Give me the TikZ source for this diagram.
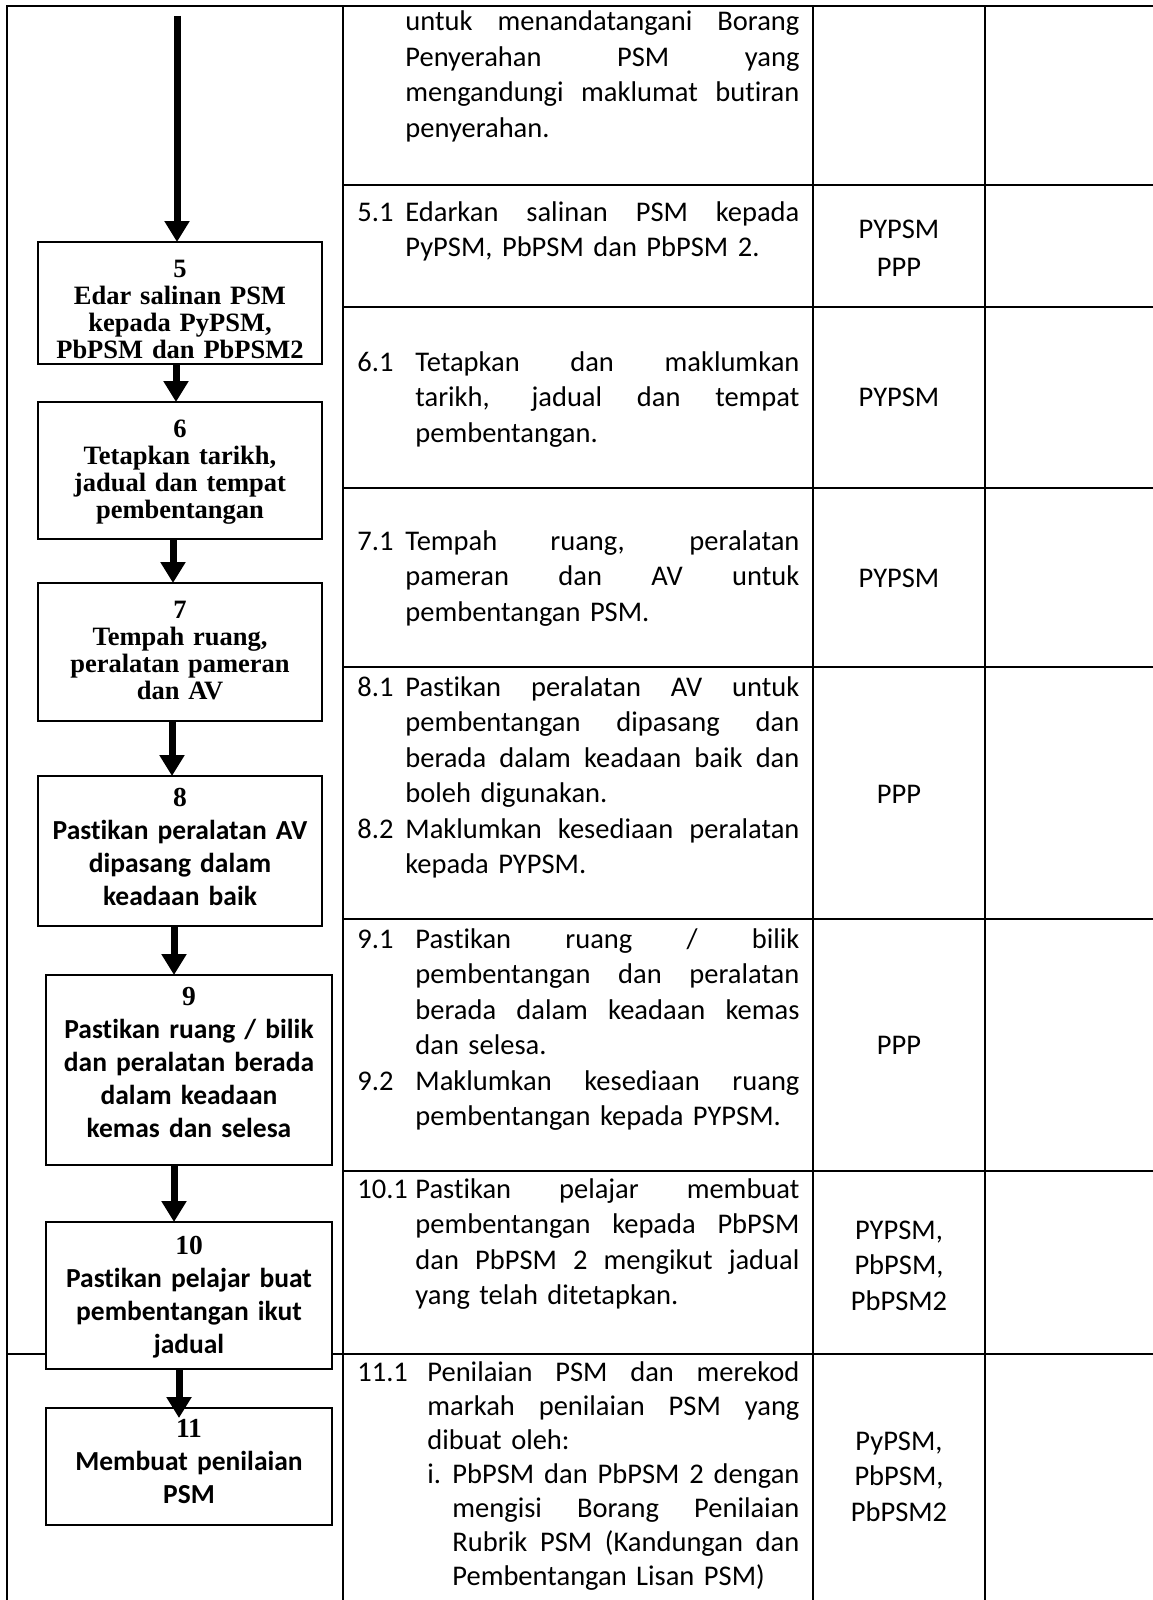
\documentclass[tikz,border=0pt]{standalone}
\usepackage{fontspec}
\setmainfont{Carlito}[Ligatures=NoCommon,Contextuals=NoAlternate]
\newfontfamily\cambria{Liberation Serif}
\usetikzlibrary{arrows.meta,calc}

% one justified line of fixed width, followed by a line break
\newcommand\justline[1]{\makebox[\linewidth][s]{\spaceskip=\fontdimen2\font plus 1fil\relax #1}\\}

\begin{document}
\begin{tikzpicture}[x=0.5pt,y=-0.5pt,
  grid/.style={line width=1.4pt, line cap=rect},
  flowbox/.style={draw, line width=1pt, fill=white, rectangle, inner sep=0pt, outer sep=0pt, anchor=north west},
  flow/.style={line width=3.5pt, -{Triangle[length=10.5pt,width=12pt]}},
  serifcap/.style={anchor=base, inner sep=0pt, text width=140pt, align=center,
    font=\cambria\bfseries\fontsize{13.25pt}{13.5pt}\selectfont},
  sanscap/.style={anchor=base, inner sep=0pt, text width=140pt, align=center,
    font=\bfseries\fontsize{13.75pt}{16.5pt}\selectfont},
  body/.style={anchor=base west, inner sep=0pt, align=left,
    font=\fontsize{14.25pt}{17.75pt}\selectfont},
  num/.style={anchor=base west, inner sep=0pt, font=\fontsize{14.25pt}{17.75pt}\selectfont},
  who/.style={anchor=base, inner sep=0pt, text width=80pt, align=center,
    font=\fontsize{14.25pt}{17.75pt}\selectfont},
]
\useasboundingbox (0,0) rectangle (1152,1600);

% table rules
\draw[grid] (7,1600) -- (7,6) -- (1152,6);
\foreach \x in {343,813,985} \draw[grid] (\x,6) -- (\x,1600);
\foreach \y in {185,307,488,667,919,1171} \draw[grid] (343,\y) -- (1152,\y);
\draw[grid] (7,1354) -- (1152,1354);

% flowchart boxes
\node[flowbox, minimum width=142pt, minimum height=61pt]   (b5)  at (38,242)  {};
\node[flowbox, minimum width=142pt, minimum height=68.5pt] (b6)  at (38,402)  {};
\node[flowbox, minimum width=142pt, minimum height=69pt]   (b7)  at (38,583)  {};
\node[flowbox, minimum width=142pt, minimum height=75pt]   (b8)  at (38,776)  {};
\node[flowbox, minimum width=143pt, minimum height=95pt]   (b9)  at (46,975)  {};
\node[flowbox, minimum width=143pt, minimum height=73.5pt] (b10) at (46,1222) {};
\node[flowbox, minimum width=143pt, minimum height=58.5pt] (b11) at (46,1408) {};

% box captions
\node[serifcap] (t5) at (180,277) {5\\Edar salinan PSM\\kepada PyPSM,\\PbPSM dan PbPSM2};
\node[serifcap] (t6) at (180,437.5) {6\\Tetapkan tarikh,\\jadual dan tempat\\pembentangan};
\node[serifcap] (t7) at (180,618) {7\\Tempah ruang,\\peralatan pameran\\dan AV};
\node[sanscap] (t8) at (180,806) {{\cambria 8}\\Pastikan peralatan AV\\dipasang dalam\\keadaan baik};
\node[sanscap] (t9) at (189,1005) {{\cambria 9}\\Pastikan ruang / bilik\\dan peralatan berada\\dalam keadaan\\kemas dan selesa};
\node[sanscap] (t10) at (189,1254) {{\cambria 10}\\Pastikan pelajar buat\\pembentangan ikut\\jadual};
\node[sanscap] (t11) at (189,1437) {{\cambria 11}\\Membuat penilaian\\PSM};

% flow arrows
\coordinate (s0) at (177,16);
\coordinate (c56) at (176,0);
\coordinate (c67) at (173,0);
\coordinate (c78) at (172,0);
\coordinate (c89) at (174,0);
\coordinate (c910) at (174,0);
\coordinate (tip11) at (179,1418);
\draw[flow] (s0) -- (b5.north -| s0);
\draw[flow] (b5.south -| c56) -- (b6.north -| c56);
\draw[flow] (b6.south -| c67) -- (b7.north -| c67);
\draw[flow] (b7.south -| c78) -- (b8.north -| c78);
\draw[flow] (b8.south -| c89) -- (b9.north -| c89);
\draw[flow] (b9.south -| c910) -- (b10.north -| c910);
\draw[flow] (b10.south -| tip11) -- (tip11);

% activity descriptions
\node[body, text width=197pt] (r4) at (405,31) {\justline{untuk menandatangani Borang}\justline{Penyerahan PSM yang}\justline{mengandungi maklumat butiran}penyerahan.};

\node[num] (n51) at (357,221) {5.1};
\node[body, text width=197pt] (r51) at (405,221) {\justline{Edarkan salinan PSM kepada}PyPSM, PbPSM dan PbPSM 2.};

\node[num] (n61) at (357,371) {6.1};
\node[body, text width=192pt] (r61) at (415,371) {\justline{Tetapkan dan maklumkan}\justline{tarikh, jadual dan tempat}pembentangan.};

\node[num] (n71) at (357,550) {7.1};
\node[body, text width=197pt] (r71) at (405,550) {\justline{Tempah ruang, peralatan}\justline{pameran dan AV untuk}pembentangan PSM.};

\node[num] (n81) at (357,696) {8.1};
\node[body, text width=197pt] (r81) at (405,696) {\justline{Pastikan peralatan AV untuk}\justline{pembentangan dipasang dan}\justline{berada dalam keadaan baik dan}boleh digunakan.};
\node[num] (n82) at (357,838) {8.2};
\node[body, text width=197pt] (r82) at (405,838) {\justline{Maklumkan kesediaan peralatan}kepada PYPSM.};

\node[num] (n91) at (357,948) {9.1};
\node[body, text width=192pt] (r91) at (415,948) {\justline{Pastikan ruang / bilik}\justline{pembentangan dan peralatan}\justline{berada dalam keadaan kemas}dan selesa.};
\node[num] (n92) at (357,1090) {9.2};
\node[body, text width=192pt] (r92) at (415,1090) {\justline{Maklumkan kesediaan ruang}pembentangan kepada PYPSM.};

\node[num] (n101) at (357,1198) {10.1};
\node[body, text width=192pt] (r101) at (415,1198) {\justline{Pastikan pelajar membuat}\justline{pembentangan kepada PbPSM}\justline{dan PbPSM 2 mengikut jadual}yang telah ditetapkan.};

\node[num] (n111) at (357,1381) {11.1};
\node[body, text width=186pt, font=\fontsize{14.25pt}{17pt}\selectfont] (r111) at (427,1381) {\justline{Penilaian PSM dan merekod}\justline{markah penilaian PSM yang}dibuat oleh:};
\node[num] (n111i) at (427,1483) {i.};
\node[body, text width=173.5pt, font=\fontsize{14.25pt}{17pt}\selectfont] (r111i) at (452,1483) {\justline{PbPSM dan PbPSM 2 dengan}\justline{mengisi Borang Penilaian}\justline{Rubrik PSM (Kandungan dan}Pembentangan Lisan PSM)};

% responsible parties
\node[who, font=\fontsize{14.25pt}{19pt}\selectfont] (w5) at (899,238) {PYPSM\\PPP};
\node[who] (w6) at (899,406) {PYPSM};
\node[who] (w7) at (899,587) {PYPSM};
\node[who] (w8) at (899,803) {PPP};
\node[who] (w9) at (899,1054) {PPP};
\node[who] (w10) at (899,1239) {PYPSM,\\PbPSM,\\PbPSM2};
\node[who] (w11) at (899,1450) {PyPSM,\\PbPSM,\\PbPSM2};
\end{tikzpicture}
\end{document}
